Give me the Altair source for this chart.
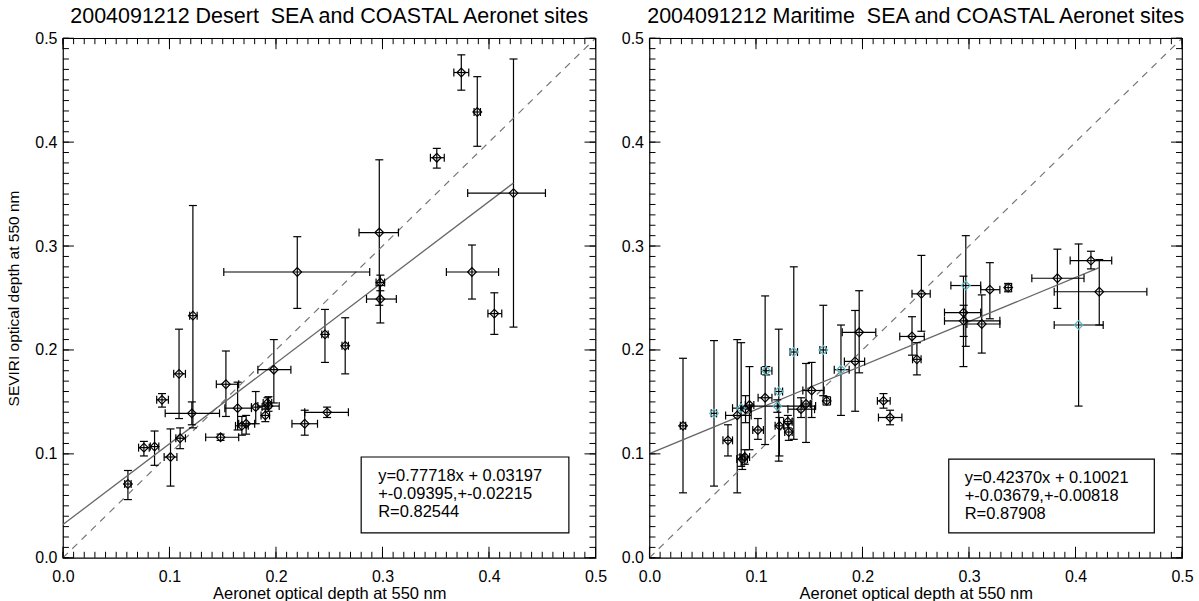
import altair as alt
import pandas as pd
import numpy as np

FONT = "Liberation Sans"
CYAN = "#5bb8c4"

# ---------------- Desert panel ----------------
des_x   = [0.061, 0.076, 0.086, 0.093, 0.101, 0.110, 0.109, 0.122, 0.121, 0.148, 0.153, 0.164,
           0.168, 0.172, 0.181, 0.190, 0.193, 0.192, 0.198, 0.220, 0.227, 0.248, 0.246, 0.265,
           0.297, 0.298, 0.298, 0.351, 0.374, 0.389, 0.384, 0.405, 0.423]
des_y   = [0.071, 0.106, 0.107, 0.152, 0.097, 0.115, 0.177, 0.233, 0.139, 0.116, 0.167, 0.144,
           0.127, 0.129, 0.145, 0.137, 0.146, 0.149, 0.181, 0.275, 0.129, 0.140, 0.215, 0.204,
           0.313, 0.265, 0.249, 0.385, 0.467, 0.429, 0.275, 0.235, 0.351]
des_xlo = [0.058, 0.071, 0.082, 0.088, 0.095, 0.106, 0.104, 0.119, 0.096, 0.134, 0.144, 0.152,
           0.162, 0.165, 0.177, 0.186, 0.183, 0.188, 0.183, 0.151, 0.215, 0.227, 0.243, 0.262,
           0.278, 0.294, 0.285, 0.345, 0.367, 0.386, 0.360, 0.399, 0.380]
des_xhi = [0.064, 0.081, 0.090, 0.099, 0.107, 0.115, 0.115, 0.126, 0.147, 0.165, 0.165, 0.177,
           0.174, 0.180, 0.187, 0.194, 0.203, 0.196, 0.214, 0.288, 0.239, 0.268, 0.249, 0.268,
           0.315, 0.302, 0.313, 0.358, 0.381, 0.392, 0.409, 0.412, 0.453]
des_ylo = [0.056, 0.098, 0.089, 0.145, 0.069, 0.105, 0.134, 0.125, 0.128, 0.113, 0.136, 0.123,
           0.118, 0.119, 0.129, 0.131, 0.141, 0.144, 0.149, 0.240, 0.118, 0.135, 0.188, 0.177,
           0.243, 0.257, 0.226, 0.375, 0.450, 0.396, 0.249, 0.215, 0.222]
des_yhi = [0.084, 0.112, 0.122, 0.158, 0.124, 0.125, 0.220, 0.339, 0.150, 0.119, 0.199, 0.169,
           0.136, 0.137, 0.160, 0.143, 0.155, 0.154, 0.210, 0.309, 0.142, 0.145, 0.239, 0.231,
           0.383, 0.272, 0.262, 0.394, 0.484, 0.463, 0.301, 0.255, 0.480]
des_grp = ["a"] * len(des_x)

# ---------------- Maritime panel ----------------
mar_x   = [0.0315, 0.0606, 0.0737, 0.0824, 0.0861, 0.0871, 0.0895, 0.0902, 0.0939, 0.1018, 0.1086,
           0.1096, 0.1200, 0.1214, 0.1220, 0.1299, 0.1308, 0.1355, 0.1423, 0.1470, 0.1523, 0.1632,
           0.1664, 0.1798, 0.1931, 0.1969, 0.2197, 0.2259, 0.2465, 0.2511, 0.2553, 0.2970, 0.2948,
           0.2950, 0.3120, 0.3196, 0.3368, 0.3830, 0.4145, 0.4223, 0.4029]
mar_y   = [0.127, 0.139, 0.113, 0.137, 0.144, 0.095, 0.097, 0.143, 0.147, 0.123, 0.154,
           0.180, 0.146, 0.160, 0.127, 0.131, 0.121, 0.198, 0.143, 0.148, 0.161, 0.200,
           0.151, 0.181, 0.189, 0.217, 0.151, 0.135, 0.213, 0.191, 0.254, 0.262, 0.236,
           0.228, 0.225, 0.258, 0.260, 0.269, 0.286, 0.256, 0.224]
mar_xlo = [0.029, 0.058, 0.069, 0.0715, 0.078, 0.082, 0.085, 0.086, 0.090, 0.097, 0.102,
           0.105, 0.086, 0.118, 0.118, 0.126, 0.127, 0.132, 0.130, 0.143, 0.144, 0.160,
           0.163, 0.1735, 0.183, 0.181, 0.214, 0.215, 0.235, 0.247, 0.2465, 0.283, 0.277,
           0.277, 0.298, 0.311, 0.334, 0.359, 0.395, 0.380, 0.380]
mar_xhi = [0.034, 0.063, 0.078, 0.0955, 0.0955, 0.092, 0.094, 0.095, 0.098, 0.107, 0.115,
           0.115, 0.156, 0.125, 0.126, 0.134, 0.134, 0.139, 0.155, 0.151, 0.164, 0.166,
           0.170, 0.1875, 0.202, 0.2125, 0.226, 0.237, 0.258, 0.255, 0.2636, 0.311, 0.311,
           0.329, 0.329, 0.329, 0.340, 0.408, 0.434, 0.467, 0.426]
mar_ylo = [0.0625, 0.069, 0.098, 0.0625, 0.088, 0.085, 0.090, 0.130, 0.104, 0.114, 0.109,
           0.176, 0.140, 0.093, 0.098, 0.125, 0.113, 0.114, 0.135, 0.111, 0.135, 0.156,
           0.147, 0.137, 0.141, 0.178, 0.144, 0.128, 0.195, 0.176, 0.218, 0.2035, 0.184,
           0.213, 0.197, 0.230, 0.256, 0.240, 0.278, 0.224, 0.146]
mar_yhi = [0.192, 0.209, 0.128, 0.210, 0.207, 0.099, 0.104, 0.156, 0.184, 0.134, 0.252,
           0.184, 0.152, 0.220, 0.135, 0.137, 0.129, 0.280, 0.154, 0.187, 0.188, 0.243,
           0.155, 0.224, 0.238, 0.257, 0.158, 0.142, 0.232, 0.207, 0.291, 0.310, 0.271,
           0.243, 0.253, 0.284, 0.264, 0.297, 0.295, 0.287, 0.302]
mar_grp = ["a", "b", "a", "a", "b", "a", "a", "a", "a", "a", "a",
           "b", "b", "b", "a", "a", "a", "b", "a", "a", "a", "b",
           "a", "b", "a", "a", "a", "a", "a", "a", "a", "b", "a",
           "a", "a", "a", "a", "a", "a", "a", "b"]

# fit equations and annotation text
des_fit = (0.77718, 0.03197)
mar_fit = (0.42370, 0.10021)
des_lines = ["y=0.77718x + 0.03197", "+-0.09395,+-0.02215", "R=0.82544"]
mar_lines = ["y=0.42370x + 0.10021", "+-0.03679,+-0.00818", "R=0.87908"]
des_title = "2004091212 Desert \u00a0SEA and COASTAL Aeronet sites"
mar_title = "2004091212 Maritime \u00a0SEA and COASTAL Aeronet sites"
x_title = "Aeronet optical depth at 550 nm"
y_title = "SEVIRI optical depth at 550 nm"
tick_labels = [0.0, 0.1, 0.2, 0.3, 0.4, 0.5]

# annotation box placement (data units) and text anchor
des_box = dict(bx1=0.280, bx2=0.475, by1=0.024, by2=0.097)
mar_box = dict(bx1=0.281, bx2=0.474, by1=0.024, by2=0.095)
des_txt = dict(tx=0.296, ty=[0.0788, 0.0609, 0.0442])
mar_txt = dict(tx=0.296, ty=[0.0769, 0.0596, 0.0423])

W, H = 533, 520
MINOR, MAJOR = 6, 11


def panel(xs_, ys_, xlo, xhi, ylo, yhi, grp, fit, lines, box, txt, title, show_ytitle, width):
    df = pd.DataFrame(dict(x=xs_, y=ys_, xlo=xlo, xhi=xhi, ylo=ylo, yhi=yhi, grp=grp))
    xs = alt.Scale(domain=[0, 0.5], nice=False, zero=False)
    ys = alt.Scale(domain=[0, 0.5], nice=False, zero=False)
    xaxis = alt.Axis(values=tick_labels, format=".1f", labelFlush=False, tickSize=0, domain=False,
                     grid=False, labelFontSize=16, labelPadding=11, titleFontSize=16.5, titlePadding=1,
                     labelFont=FONT, titleFont=FONT, titleFontWeight="normal",
                     labelColor="black", titleColor="black")
    yaxis = alt.Axis(values=tick_labels, format=".1f", labelFlush=False, tickSize=0, domain=False,
                     grid=False, labelFontSize=16, labelPadding=6, titleFontSize=15.5, titlePadding=13,
                     labelFont=FONT, titleFont=FONT, titleFontWeight="normal",
                     labelColor="black", titleColor="black")
    yt = y_title if show_ytitle else None

    def X(f):
        return alt.X(f, type="quantitative", scale=xs, axis=xaxis, title=x_title)

    def Y(f):
        return alt.Y(f, type="quantitative", scale=ys, axis=yaxis, title=yt)

    base = alt.Chart(df)
    one2one = alt.Chart(pd.DataFrame(dict(lx=[0.0, 0.5], ly=[0.0, 0.5]))).mark_line(
        color="#777777", strokeWidth=1.2, strokeDash=[7, 6]).encode(x=X("lx"), y=Y("ly"))
    xmax = max(xs_)
    fitdf = pd.DataFrame(dict(lx=[0.0, xmax], ly=[fit[1], fit[0] * xmax + fit[1]]))
    fitline = alt.Chart(fitdf).mark_line(color="#666666", strokeWidth=1.3).encode(x=X("lx"), y=Y("ly"))

    vbar = base.mark_rule(color="black", strokeWidth=1.2).encode(x=X("x"), y=Y("ylo"), y2="yhi:Q")
    hbar = base.mark_rule(color="black", strokeWidth=1.2).encode(x=X("xlo"), x2="xhi:Q", y=Y("y"))
    cap_lo = base.mark_rule(color="black", strokeWidth=1.2, xOffset=-4, x2Offset=4).encode(
        x=X("x"), x2="x:Q", y=Y("ylo"))
    cap_hi = base.mark_rule(color="black", strokeWidth=1.2, xOffset=-4, x2Offset=4).encode(
        x=X("x"), x2="x:Q", y=Y("yhi"))
    cap_l = base.mark_rule(color="black", strokeWidth=1.2, yOffset=-4, y2Offset=4).encode(
        x=X("xlo"), y=Y("y"), y2="y:Q")
    cap_r = base.mark_rule(color="black", strokeWidth=1.2, yOffset=-4, y2Offset=4).encode(
        x=X("xhi"), y=Y("y"), y2="y:Q")
    pts = base.mark_point(shape="diamond", filled=False, size=75, strokeWidth=1.2, opacity=1).encode(
        x=X("x"), y=Y("y"),
        color=alt.Color("grp:N", scale=alt.Scale(domain=["a", "b"], range=["black", CYAN]), legend=None))

    boxdf = pd.DataFrame({k: [v] for k, v in box.items()})
    rect = alt.Chart(boxdf).mark_rect(fill="white", stroke="black", strokeWidth=1.2).encode(
        x=X("bx1"), x2="bx2:Q", y=Y("by1"), y2="by2:Q")
    tdf = pd.DataFrame(dict(tx=[txt["tx"]] * 3, ty=txt["ty"], label=lines))
    text = alt.Chart(tdf).mark_text(align="left", baseline="middle", fontSize=16.5, font=FONT,
                                    color="black").encode(x=X("tx"), y=Y("ty"), text="label:N")

    minor = pd.DataFrame(dict(t=np.round(np.arange(0, 0.5001, 0.01), 2)))
    major = pd.DataFrame(dict(t=tick_labels))
    ticks = []
    for tdf_, L in ((minor, MINOR), (major, MAJOR)):
        c = alt.Chart(tdf_)
        ticks.append(c.mark_rule(color="black", strokeWidth=1).encode(
            x=X("t"), y=alt.value(H), y2=alt.value(H - L)))
        ticks.append(c.mark_rule(color="black", strokeWidth=1).encode(
            x=X("t"), y=alt.value(0), y2=alt.value(L)))
        ticks.append(c.mark_rule(color="black", strokeWidth=1).encode(
            y=Y("t"), x=alt.value(0), x2=alt.value(L)))
        ticks.append(c.mark_rule(color="black", strokeWidth=1).encode(
            y=Y("t"), x=alt.value(width), x2=alt.value(width - L)))

    layers = [vbar, one2one, fitline, hbar, cap_lo, cap_hi, cap_l, cap_r, pts, rect, text] + ticks
    return alt.layer(*layers).properties(
        width=width, height=H,
        title=alt.TitleParams(text=title, fontSize=21.5, font=FONT, fontWeight="normal",
                              anchor="middle", frame="group", offset=3, color="black"))


left = panel(des_x, des_y, des_xlo, des_xhi, des_ylo, des_yhi, des_grp, des_fit, des_lines,
             des_box, des_txt, des_title, True, W)
right = panel(mar_x, mar_y, mar_xlo, mar_xhi, mar_ylo, mar_yhi, mar_grp, mar_fit, mar_lines,
              mar_box, mar_txt, mar_title, False, W)

chart = alt.hconcat(left, right, spacing=13).properties(
    padding={"left": 6, "top": 4, "right": 5, "bottom": 0}, background="white"
).configure_view(stroke="black", strokeWidth=1.2)

chart.save("out.html", embed_options={"renderer": "svg", "actions": False})
